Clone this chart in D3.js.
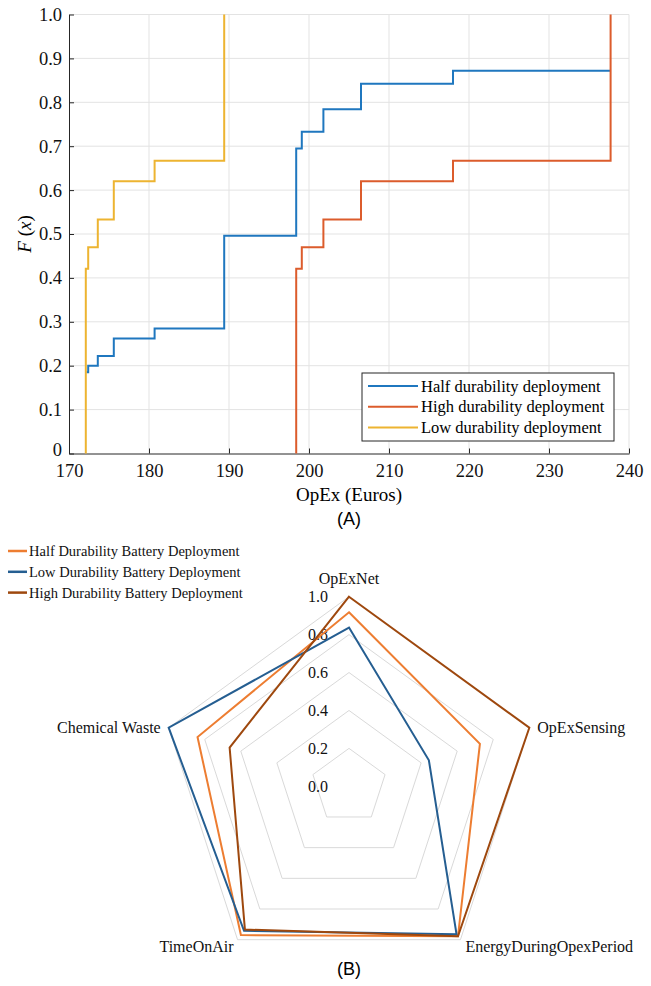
<!DOCTYPE html>
<html>
<head>
<meta charset="utf-8">
<script src="https://cdn.jsdelivr.net/npm/d3@7"></script>
<style>
  body { margin: 0; background: #fff; }
  svg { display: block; }
  .serif { font-family: "Liberation Serif", "Times New Roman", serif; }
  .sans { font-family: "Liberation Sans", Arial, sans-serif; }
</style>
</head>
<body>
<script>
// ---- panel A: empirical CDF of OpEx ----
const opexTicks = [170, 180, 190, 200, 210, 220, 230, 240];
const fTicks = [0, 0.1, 0.2, 0.3, 0.4, 0.5, 0.6, 0.7, 0.8, 0.9, 1.0];

// stair points (x, F), drawn with step-after
const halfX = [172.2, 172.4, 173.6, 175.6, 180.7, 189.4, 198.4, 199.1, 201.8, 206.5, 218.0, 237.7];
const halfF = [0.185, 0.200, 0.222, 0.262, 0.285, 0.496, 0.695, 0.733, 0.784, 0.842, 0.872, 0.872];
const highX = [198.4, 198.4, 199.1, 201.8, 206.5, 218.0, 237.7];
const highF = [0, 0.421, 0.470, 0.533, 0.620, 0.667, 1.0];
const lowX = [172.1, 172.1, 172.4, 173.6, 175.6, 180.7, 189.4];
const lowF = [0, 0.421, 0.470, 0.533, 0.620, 0.667, 1.0];

const cdfNames = ["Half durability deployment", "High durability deployment", "Low durability deployment"];
const cdfColors = ["#1f77bf", "#dc5c2c", "#edb431"];

// ---- panel B: radar ----
const radarAxes = ["OpExNet", "OpExSensing", "EnergyDuringOpexPeriod", "TimeOnAir", "Chemical Waste"];
const radarNames = ["Half Durability Battery Deployment", "Low Durability Battery Deployment", "High Durability Battery Deployment"];
const halfVals = [0.918, 0.726, 0.978, 0.970, 0.840];
const lowVals = [0.837, 0.443, 0.965, 0.942, 1.0];
const highVals = [1.0, 1.0, 0.978, 0.934, 0.662];
const radarTicks = [0, 0.2, 0.4, 0.6, 0.8, 1.0];
const radarColors = ["#ed7d31", "#255e91", "#9e480e"];

const svg = d3.select("body").append("svg").attr("width", 651).attr("height", 986);

// ================= panel A =================
const x = d3.scaleLinear().domain([170, 240]).range([69, 629]);
const y = d3.scaleLinear().domain([0, 1]).range([453.5, 14.5]);

const grid = svg.append("g").attr("stroke", "#e3e3e3").attr("stroke-width", 1);
grid.selectAll("line.vx").data(opexTicks.slice(1)).enter().append("line")
	.attr("x1", d => x(d)).attr("x2", d => x(d))
	.attr("y1", y(0)).attr("y2", y(1));
grid.selectAll("line.hy").data(fTicks.slice(1)).enter().append("line")
	.attr("x1", x(170)).attr("x2", x(240))
	.attr("y1", d => y(d)).attr("y2", d => y(d));

const yAxis = svg.append("g").attr("transform", "translate(" + x(170) + ",0)")
	.call(d3.axisLeft(y).tickValues(fTicks).tickSize(-5).tickSizeOuter(0).tickPadding(7)
		.tickFormat(d => d === 0 ? "0" : d3.format(".1f")(d)));
const xAxis = svg.append("g").attr("transform", "translate(0," + y(0) + ")")
	.call(d3.axisBottom(x).tickValues(opexTicks).tickSize(-5).tickSizeOuter(0).tickPadding(10));

[xAxis, yAxis].forEach(function(a) {
	a.select(".domain").attr("stroke", "#262626").attr("stroke-width", 1);
	a.selectAll(".tick line").attr("stroke", "#262626");
	a.selectAll("text").attr("class", "serif").attr("font-size", 18.5).attr("fill", "#111")
		.attr("font-family", null);
});
// the lowest y label sits a little higher so it clears the x labels
yAxis.selectAll(".tick text").filter(d => d === 0).attr("dy", "0.1em");

const stair = d3.line().x(d => x(d[0])).y(d => y(d[1])).curve(d3.curveStepAfter);
const cdfSeries = [
	d3.zip(halfX, halfF),
	d3.zip(highX, highF),
	d3.zip(lowX, lowF)
];
svg.append("g").selectAll("path").data(cdfSeries).enter().append("path")
	.attr("d", stair)
	.attr("fill", "none")
	.attr("stroke", (d, i) => cdfColors[i])
	.attr("stroke-width", 2);

// y label F(x)
const yl = svg.append("text").attr("class", "serif").attr("font-size", 19)
	.attr("text-anchor", "middle")
	.attr("transform", "translate(31," + y(0.5) + ") rotate(-90)");
yl.append("tspan").attr("font-style", "italic").text("F");
yl.append("tspan").text(" (");
yl.append("tspan").attr("font-style", "italic").text("x");
yl.append("tspan").text(")");

svg.append("text").attr("class", "serif").attr("font-size", 19)
	.attr("x", (x(170) + x(240)) / 2).attr("y", 501).attr("text-anchor", "middle")
	.text("OpEx (Euros)");
svg.append("text").attr("class", "sans").attr("font-size", 18)
	.attr("x", (x(170) + x(240)) / 2).attr("y", 525).attr("text-anchor", "middle")
	.text("(A)");

// legend A
const legA = svg.append("g").attr("transform", "translate(362,373)");
legA.append("rect").attr("width", 252).attr("height", 68)
	.attr("fill", "#fff").attr("stroke", "#262626").attr("stroke-width", 1);
cdfNames.forEach(function(name, i) {
	const row = legA.append("g").attr("transform", "translate(0," + (13 + i * 20.7) + ")");
	row.append("line").attr("x1", 6).attr("x2", 56).attr("stroke", cdfColors[i]).attr("stroke-width", 2);
	row.append("text").attr("class", "serif").attr("font-size", 16.5)
		.attr("x", 59).attr("dy", "0.35em").text(name);
});

// ================= panel B =================
const cx = 349, cy = 786.3;
const r = d3.scaleLinear().domain([0, 1]).range([0, 189.6]);
const angle = i => i * 2 * Math.PI / radarAxes.length;
const pt = (v, i) => [cx + r(v) * Math.sin(angle(i)), cy - r(v) * Math.cos(angle(i))];

const rings = svg.append("g").attr("fill", "none").attr("stroke", "#d9d9d9").attr("stroke-width", 1);
radarTicks.slice(1).forEach(function(t) {
	rings.append("path").attr("d", d3.line()(radarAxes.map((a, i) => pt(t, i))) + "Z");
});

svg.append("g").selectAll("text").data(radarTicks).enter().append("text")
	.attr("class", "serif").attr("font-size", 16).attr("fill", "#111")
	.attr("x", cx - 21).attr("y", d => cy - r(d)).attr("dy", "0.35em")
	.attr("text-anchor", "end")
	.text(d => d3.format(".1f")(d));

// axis labels
const labelPos = [
	{ dx: 0, dy: -18, anchor: "middle" },
	{ dx: 8, dy: 0, anchor: "start" },
	{ dx: 5, dy: 7, anchor: "start" },
	{ dx: -4, dy: 7, anchor: "end" },
	{ dx: -8, dy: 0, anchor: "end" }
];
radarAxes.forEach(function(name, i) {
	const p = pt(1, i);
	svg.append("text").attr("class", "serif").attr("font-size", 16).attr("fill", "#111")
		.attr("x", p[0] + labelPos[i].dx).attr("y", p[1] + labelPos[i].dy)
		.attr("dy", "0.35em").attr("text-anchor", labelPos[i].anchor).text(name);
});

const radarSeries = [halfVals, lowVals, highVals];
svg.append("g").selectAll("path").data(radarSeries).enter().append("path")
	.attr("d", vals => d3.line()(vals.map((v, i) => pt(v, i))) + "Z")
	.attr("fill", "none")
	.attr("stroke", (d, i) => radarColors[i])
	.attr("stroke-width", 2)
	.attr("stroke-linejoin", "miter");

// legend B
radarNames.forEach(function(name, i) {
	const row = svg.append("g").attr("transform", "translate(0," + (551 + i * 20.8) + ")");
	row.append("line").attr("x1", 8).attr("x2", 27).attr("stroke", radarColors[i]).attr("stroke-width", 2.5);
	row.append("text").attr("class", "serif").attr("font-size", 14.5).attr("fill", "#111")
		.attr("x", 29).attr("dy", "0.35em").text(name);
});

svg.append("text").attr("class", "sans").attr("font-size", 18)
	.attr("x", cx).attr("y", 975).attr("text-anchor", "middle")
	.text("(B)");
</script>
</body>
</html>
